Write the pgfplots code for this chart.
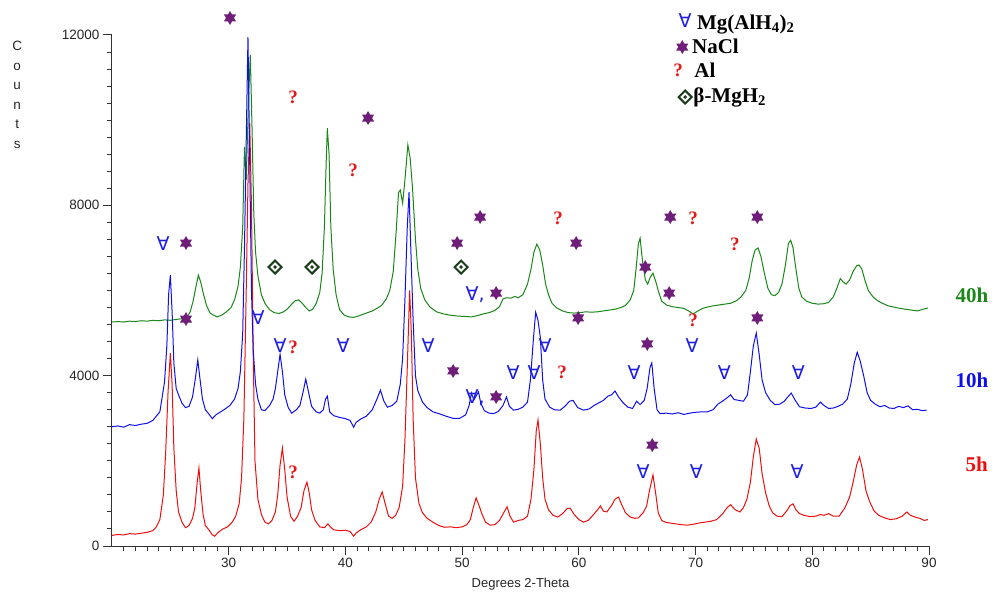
\documentclass[border=0pt]{standalone}
\usepackage{fontspec}
\setmainfont{Liberation Sans}
\newfontfamily\lserif{Liberation Serif}
\newfontfamily\djv{DejaVu Sans}
\usepackage{pgfplots}
\pgfplotsset{compat=1.18}
\definecolor{cgreen}{RGB}{25,135,25}
\definecolor{cblue}{RGB}{15,15,235}
\definecolor{cred}{RGB}{235,15,15}
\definecolor{cpurple}{RGB}{110,30,120}
\definecolor{cdiam}{RGB}{25,60,25}
\definecolor{cforall}{RGB}{30,30,225}
\definecolor{cq}{RGB}{230,25,25}
\pgfdeclareplotmark{hexstar}{%
  \pgfpathmoveto{\pgfqpointpolar{90}{\pgfplotmarksize}}%
  \pgfpathlineto{\pgfqpointpolar{210}{\pgfplotmarksize}}%
  \pgfpathlineto{\pgfqpointpolar{330}{\pgfplotmarksize}}%
  \pgfpathclose
  \pgfpathmoveto{\pgfqpointpolar{270}{\pgfplotmarksize}}%
  \pgfpathlineto{\pgfqpointpolar{30}{\pgfplotmarksize}}%
  \pgfpathlineto{\pgfqpointpolar{150}{\pgfplotmarksize}}%
  \pgfpathclose
  \pgfusepathqfill
}
\pgfdeclareplotmark{dotdiamond}{%
  \pgfsetfillcolor{white}%
  \pgfpathmoveto{\pgfqpoint{0pt}{\pgfplotmarksize}}%
  \pgfpathlineto{\pgfqpoint{\pgfplotmarksize}{0pt}}%
  \pgfpathlineto{\pgfqpoint{0pt}{-\pgfplotmarksize}}%
  \pgfpathlineto{\pgfqpoint{-\pgfplotmarksize}{0pt}}%
  \pgfpathclose
  \pgfusepathqfillstroke
  \pgfsetfillcolor{cdiam}%
  \pgfpathcircle{\pgfpointorigin}{0.3\pgfplotmarksize}%
  \pgfusepathqfill
}
\begin{document}
\begin{tikzpicture}
\useasboundingbox (-112pt,-49pt) rectangle (888pt,546pt);
\begin{axis}[at={(0pt,0pt)}, anchor=south west, scale only axis,
  width=817pt, height=511pt,
  xmin=20, xmax=90, ymin=0, ymax=12000,
  axis x line=bottom, axis y line=left,
  axis line style={-, line width=1pt, black!80},
  clip=false, tick align=outside,
  major tick length=9pt, minor tick length=5pt,
  every tick/.style={black!80, line width=1pt},
  xtick={30,40,...,90}, minor xtick={21,22,...,89},
  ytick={0,4000,8000,12000}, minor ytick={400,800,...,11600},
  scaled y ticks=false,
  tick label style={font=\fontsize{13.5}{14}\selectfont, text=black!85},
  /pgf/number format/assume math mode=true,
  /pgf/number format/set thousands separator={},
  xlabel={Degrees 2-Theta},
  xlabel style={at={(rel axis cs:0.5,-0.0744)}, anchor=center, font=\fontsize{13}{14}\selectfont, text=black!85},
  ylabel={C\\o\\u\\n\\t\\s},
  ylabel style={rotate=-90, at={(rel axis cs:-0.116,0.883)}, anchor=center, align=center, font=\fontsize{13.5}{19.6}\selectfont, text=black!85},
]
% 40h
\addplot[cgreen, line width=1pt, forget plot] table {
x y
20.0 5260
20.5 5270
21.0 5260
21.5 5280
22.0 5270
22.5 5290
23.0 5280
23.5 5300
24.0 5290
24.5 5310
25.0 5300
25.5 5320
26.0 5340
26.4 5360
26.7 5500
26.95 5750
27.2 6100
27.4 6360
27.6 6200
27.85 5900
28.1 5650
28.4 5470
28.7 5420
29.0 5380
29.4 5420
29.8 5500
30.2 5600
30.5 5780
30.8 6100
31.0 6550
31.2 7500
31.35 9370
31.5 8600
31.7 10500
31.85 11530
32.0 9800
32.15 7800
32.3 6900
32.5 6350
32.8 5900
33.1 5700
33.5 5550
33.9 5480
34.3 5460
34.7 5500
35.0 5560
35.4 5680
35.7 5760
36.0 5780
36.3 5700
36.6 5600
36.9 5520
37.2 5560
37.5 5700
37.8 5950
38.0 6400
38.2 7500
38.35 9000
38.45 9810
38.6 9200
38.75 7500
38.95 6500
39.2 5900
39.5 5550
39.9 5420
40.3 5380
40.7 5370
41.1 5400
41.5 5440
41.9 5480
42.3 5520
42.7 5580
43.1 5650
43.5 5800
43.8 6000
44.1 6450
44.35 7400
44.55 8300
44.7 8360
44.9 8050
45.1 8600
45.35 9420
45.55 9100
45.75 8400
46.0 7200
46.2 6500
46.45 6050
46.8 5780
47.25 5610
47.8 5500
48.4 5450
49.0 5420
49.6 5400
50.2 5390
50.8 5380
51.3 5410
51.8 5450
52.3 5480
52.8 5530
53.2 5620
53.5 5800
53.8 5830
54.2 5820
54.5 5860
54.8 5830
55.2 5900
55.6 6150
55.9 6500
56.15 6900
56.4 7090
56.65 6950
56.9 6600
57.15 6150
57.4 5900
57.7 5700
58.1 5590
58.6 5520
59.1 5480
59.6 5470
60.1 5480
60.6 5500
61.1 5490
61.6 5500
62.1 5520
62.6 5540
63.1 5560
63.6 5600
64.0 5650
64.4 5780
64.7 6000
64.9 6500
65.1 7100
65.25 7230
65.45 6700
65.7 6250
65.9 6150
66.1 6300
66.35 6410
66.6 6200
66.85 5950
67.1 5750
67.5 5660
68.0 5620
68.5 5600
69.0 5580
69.4 5520
69.8 5450
70.2 5520
70.6 5580
71.0 5610
71.5 5640
72.0 5660
72.5 5680
73.0 5700
73.5 5760
73.9 5850
74.3 6000
74.6 6300
74.85 6700
75.1 6950
75.35 7000
75.6 6800
75.9 6400
76.2 6050
76.5 5900
76.8 5880
77.1 5950
77.4 6150
77.7 6600
77.95 7100
78.15 7180
78.35 7000
78.6 6500
78.85 6050
79.1 5850
79.5 5750
80.0 5700
80.5 5680
81.0 5690
81.4 5720
81.8 5850
82.1 6050
82.4 6280
82.65 6200
82.9 6150
83.2 6250
83.5 6450
83.8 6580
84.0 6600
84.25 6500
84.5 6250
84.8 6000
85.2 5850
85.6 5760
86.0 5700
86.5 5640
87.0 5610
87.5 5580
88.0 5560
88.5 5540
89.0 5520
89.5 5560
89.9 5590
};
% 5h
\addplot[cred, line width=1pt, forget plot] table {
x y
20.0 250
20.5 270
21.0 260
21.5 290
22.0 280
22.5 300
23.0 320
23.5 360
23.8 450
24.1 620
24.4 1200
24.6 2200
24.8 3600
25.0 4530
25.15 3800
25.3 2300
25.5 1300
25.7 800
26.0 560
26.3 430
26.6 480
26.9 650
27.1 900
27.3 1500
27.45 1830
27.6 1300
27.8 750
28.0 480
28.3 380
28.6 260
28.8 230
29.1 320
29.5 400
29.9 450
30.3 560
30.6 700
30.9 1000
31.1 1600
31.3 3000
31.5 6000
31.65 8500
31.8 9930
31.95 8000
32.1 4500
32.25 2000
32.5 1100
32.8 740
33.1 560
33.4 520
33.7 600
34.0 800
34.2 1200
34.4 1900
34.6 2300
34.8 1800
35.0 1150
35.3 700
35.6 580
35.9 700
36.2 900
36.45 1300
36.7 1500
36.9 1250
37.1 850
37.4 600
37.8 450
38.2 430
38.5 520
38.7 450
39.0 380
39.5 360
40.0 370
40.4 340
40.7 230
40.9 300
41.3 380
41.8 450
42.2 560
42.6 800
42.9 1100
43.15 1270
43.4 1000
43.7 700
44.0 650
44.3 720
44.6 900
44.9 1400
45.1 2500
45.3 4200
45.5 6000
45.65 5000
45.8 3000
46.0 1600
46.3 1000
46.6 780
47.0 650
47.5 560
48.0 480
48.5 440
49.0 450
49.5 430
50.0 450
50.4 500
50.7 620
50.95 900
51.2 1130
51.45 950
51.7 750
52.0 560
52.4 490
52.8 500
53.2 600
53.6 800
53.85 920
54.1 700
54.4 560
54.8 600
55.2 620
55.6 700
55.9 1100
56.15 1800
56.35 2700
56.5 2960
56.7 2400
56.9 1600
57.1 1100
57.4 850
57.8 720
58.2 680
58.6 760
59.0 880
59.25 890
59.6 740
60.0 620
60.4 560
60.8 600
61.2 720
61.6 850
61.85 940
62.1 820
62.4 800
62.8 950
63.1 1100
63.4 1150
63.7 950
64.0 780
64.4 680
64.8 650
65.1 660
65.5 780
65.8 930
66.05 1300
66.35 1670
66.6 1200
66.8 780
67.1 600
67.4 560
67.8 540
68.3 520
68.8 500
69.3 490
69.8 510
70.3 540
70.8 560
71.3 580
71.8 620
72.3 750
72.7 900
73.0 970
73.4 850
73.8 800
74.1 900
74.4 1100
74.7 1500
74.95 2100
75.2 2510
75.45 2300
75.7 1700
76.0 1250
76.3 950
76.6 780
77.0 700
77.4 690
77.8 820
78.1 950
78.35 990
78.6 850
78.9 760
79.3 720
79.8 690
80.3 700
80.7 740
81.0 720
81.4 760
81.8 700
82.3 700
82.8 900
83.2 1150
83.5 1500
83.8 1900
84.05 2090
84.3 1800
84.6 1300
84.9 1050
85.3 820
85.7 720
86.2 660
86.7 620
87.2 640
87.7 700
88.1 800
88.4 720
88.8 680
89.2 650
89.6 600
89.9 620
};
% 10h
\addplot[cblue, line width=1pt, forget plot] table {
x y
20.0 2800
20.5 2820
21.0 2790
21.5 2850
22.0 2830
22.5 2860
23.0 2880
23.5 2950
23.8 3050
24.1 3150
24.3 3500
24.5 3850
24.7 4700
24.85 5900
25.0 6360
25.15 5500
25.3 4300
25.5 3700
25.7 3550
26.0 3350
26.3 3250
26.6 3280
26.9 3500
27.15 3950
27.35 4370
27.55 3900
27.75 3450
28.0 3200
28.3 3100
28.6 2990
28.9 3080
29.3 3150
29.7 3220
30.1 3300
30.5 3450
30.8 3700
31.0 4100
31.2 5000
31.35 7000
31.5 9500
31.65 11950
31.8 9000
31.95 6000
32.1 4600
32.3 3800
32.5 3450
32.8 3200
33.1 3180
33.5 3300
33.8 3450
34.0 3700
34.2 4100
34.4 4500
34.6 4100
34.8 3550
35.1 3250
35.4 3120
35.8 3200
36.1 3300
36.4 3650
36.6 3920
36.85 3600
37.1 3280
37.5 3150
37.8 3120
38.1 3200
38.3 3450
38.45 3520
38.65 3150
39.0 3060
39.5 3020
40.0 2990
40.4 2950
40.7 2790
40.9 2900
41.3 2980
41.8 3050
42.3 3200
42.7 3450
43.0 3660
43.3 3400
43.6 3260
44.0 3300
44.4 3400
44.7 3800
44.9 4400
45.1 5800
45.3 7500
45.45 8310
45.6 7000
45.8 5300
46.0 4000
46.2 3650
46.6 3380
47.0 3250
47.5 3150
48.1 3100
48.6 3050
49.2 3000
49.8 3000
50.3 3080
50.6 3300
50.8 3590
51.0 3430
51.2 3520
51.4 3620
51.6 3350
51.9 3180
52.3 3120
52.7 3110
53.1 3160
53.5 3300
53.8 3500
54.05 3280
54.4 3190
54.8 3210
55.2 3260
55.6 3380
55.85 3900
56.1 4840
56.3 5490
56.5 5300
56.7 4900
56.9 3900
57.1 3450
57.5 3260
57.9 3200
58.4 3190
58.8 3280
59.2 3400
59.5 3420
59.9 3250
60.4 3190
60.9 3220
61.3 3300
61.7 3360
62.1 3420
62.5 3520
62.8 3550
63.1 3640
63.4 3500
63.8 3360
64.2 3260
64.6 3230
64.95 3400
65.25 3320
65.6 3420
65.85 3700
66.1 4200
66.25 4300
66.45 3700
66.7 3200
66.95 3110
67.5 3120
68.0 3100
68.5 3130
69.0 3090
69.5 3120
70.0 3140
70.5 3150
71.0 3150
71.5 3200
71.9 3330
72.3 3400
72.7 3480
73.0 3550
73.3 3440
73.7 3420
74.1 3400
74.45 3550
74.7 4100
74.95 4700
75.2 5000
75.45 4500
75.7 3900
76.0 3600
76.4 3420
76.8 3320
77.2 3330
77.6 3400
77.9 3500
78.2 3590
78.5 3440
78.9 3270
79.4 3240
79.9 3230
80.3 3260
80.7 3380
81.0 3300
81.4 3230
81.8 3240
82.2 3280
82.6 3330
83.0 3450
83.3 3800
83.6 4300
83.85 4550
84.1 4350
84.4 4000
84.7 3600
85.0 3420
85.4 3330
85.8 3270
86.2 3300
86.6 3240
87.0 3230
87.4 3280
87.8 3250
88.2 3290
88.6 3200
89.0 3210
89.4 3180
89.8 3190
};
% NaCl stars
\addplot[only marks, mark=hexstar, mark size=7pt, color=cpurple, fill=cpurple, forget plot] table {
x y
30.11 12400
26.34 7115
41.94 10050
49.57 7115
51.54 7725
59.77 7115
67.83 7725
75.29 7725
65.69 6550
67.74 5940
52.91 5940
26.34 5330
59.94 5355
75.29 5355
65.86 4745
49.23 4110
52.91 3500
66.29 2370
68.86 11717
};
% beta-MgH2 diamonds
\addplot[only marks, mark=dotdiamond, mark size=6.5pt, draw=cdiam, fill=white, line width=2pt, forget plot] table {
x y
33.97 6550
37.14 6550
49.91 6550
69.11 10543
};
% Mg(AlH4)2 symbols
\addplot[only marks, mark=none, forget plot, point meta=explicit symbolic, nodes near coords,
  every node near coord/.append style={anchor=center, inner sep=0pt, text height=14pt, text depth=0pt, font=\djv\fontsize{19}{19}\selectfont, text=cforall}]
  table[meta=lab] {
x y lab
24.37 7115 ∀
51.11 5940 ∀,
32.51 5355 ∀
34.40 4720 ∀
39.80 4720 ∀
47.08 4720 ∀
57.11 4720 ∀
69.71 4720 ∀
54.37 4085 ∀
56.17 4085 ∀
64.74 4085 ∀
72.46 4085 ∀
78.80 4085 ∀
51.11 3500 ∀,
65.51 1740 ∀
70.06 1740 ∀
78.71 1740 ∀
69.11 12351 ∀
};
% Al symbols
\addplot[only marks, mark=none, forget plot, point meta=explicit symbolic, nodes near coords,
  every node near coord/.append style={anchor=center, inner sep=0pt, text height=13pt, text depth=0pt, font=\lserif\bfseries\fontsize{19}{19}\selectfont, text=cq}]
  table[meta=lab] {
x y lab
35.51 10540 ?
40.66 8830 ?
58.23 7700 ?
69.80 7700 ?
73.37 7090 ?
69.80 5305 ?
35.51 4670 ?
58.57 4085 ?
35.51 1740 ?
68.51 11177 ?
};
% legend texts
\node[anchor=base west, inner sep=0pt, font=\lserif\bfseries\fontsize{21}{21}\selectfont] at (axis cs:70.12,12139) {Mg(AlH\textsubscript{4})\textsubscript{2}};
\node[anchor=base west, inner sep=0pt, font=\lserif\bfseries\fontsize{21}{21}\selectfont] at (axis cs:69.69,11576) {NaCl};
\node[anchor=base west, inner sep=0pt, font=\lserif\bfseries\fontsize{21}{21}\selectfont] at (axis cs:69.88,11012) {Al};
\node[anchor=base west, inner sep=0pt, font=\lserif\bfseries\fontsize{21}{21}\selectfont] at (axis cs:69.80,10425) {β-MgH\textsubscript{2}};
% series labels
\node[anchor=base west, inner sep=0pt, text=cgreen, font=\lserif\bfseries\fontsize{21}{21}\selectfont] at (axis cs:92.26,5729) {40h};
\node[anchor=base west, inner sep=0pt, text=cblue, font=\lserif\bfseries\fontsize{21}{21}\selectfont] at (axis cs:92.26,3733) {10h};
\node[anchor=base west, inner sep=0pt, text=cred, font=\lserif\bfseries\fontsize{21}{21}\selectfont] at (axis cs:93.11,1738) {5h};
\end{axis}
\end{tikzpicture}
\end{document}
